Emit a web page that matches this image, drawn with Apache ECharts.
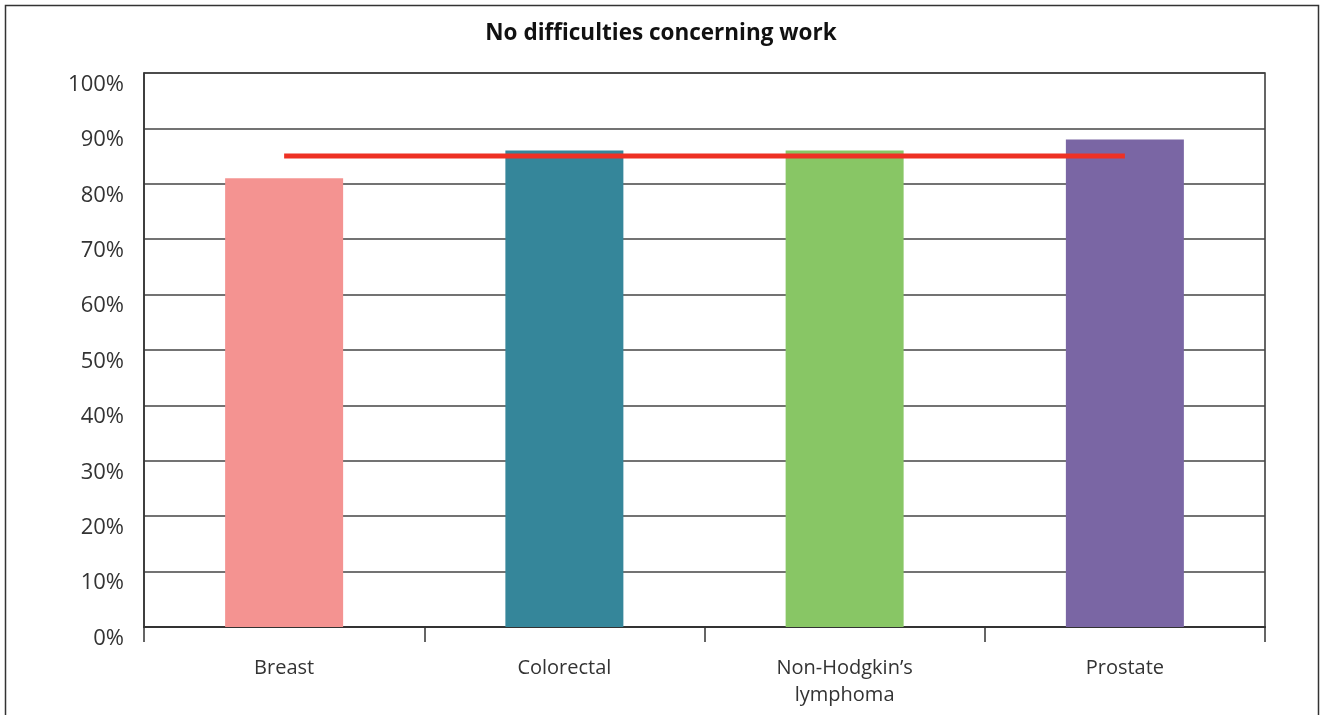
<!DOCTYPE html>
<html>
<head>
<meta charset="utf-8">
<script src="https://cdn.jsdelivr.net/npm/echarts@6/dist/echarts.min.js"></script>
<style>
html,body{margin:0;padding:0;background:#fff;}
#chart{width:1322px;height:715px;}
</style>
</head>
<body>
<div id="chart"></div>
<script>
const title = 'No difficulties concerning work';
const categories = ['Breast', 'Colorectal', 'Non-Hodgkin\u2019s\nlymphoma', 'Prostate'];
const barValues = [81, 86, 86, 88];
const barColors = ['#F49391', '#35869A', '#88C665', '#7A66A4'];
const referenceLine = [85, 85, 85, 85];
const yTicks = {min: 0, max: 100, interval: 10};

const chart = echarts.init(document.getElementById('chart'), null, {renderer: 'canvas'});
const font = '"Open Sans", "Noto Sans", sans-serif';
chart.setOption({
  animation: false,
  backgroundColor: '#fff',
  title: {
    text: title,
    left: 'center',
    top: 17,
    textStyle: {fontFamily: font, fontWeight: 'bold', fontSize: 22.5, color: '#111'}
  },
  graphic: [{
    type: 'rect',
    shape: {x: 5.5, y: 5.5, width: 1313, height: 730},
    style: {fill: 'none', stroke: '#333', lineWidth: 1.5},
    silent: true
  }],
  grid: {
    left: 144, right: 57, top: 73, bottom: 88,
    show: true, borderColor: '#333', borderWidth: 1.5, backgroundColor: 'transparent'
  },
  xAxis: {
    type: 'category',
    data: categories,
    boundaryGap: true,
    axisLine: {show: true, lineStyle: {color: '#333', width: 2}},
    axisTick: {show: true, length: 15, lineStyle: {color: '#333', width: 1.5}},
    axisLabel: {fontFamily: font, fontSize: 20, color: '#333', margin: 28, lineHeight: 27}
  },
  yAxis: {
    type: 'value',
    min: yTicks.min, max: yTicks.max, interval: yTicks.interval,
    axisLine: {show: true, lineStyle: {color: '#333', width: 1.5}},
    axisTick: {show: false},
    splitLine: {show: true, lineStyle: {color: '#444', width: 1.5}},
    axisLabel: {fontFamily: font, fontSize: 22, color: '#333', margin: 20, formatter: '{value}%',
      verticalAlign: 'top', lineHeight: 23}
  },
  series: [{
    type: 'bar',
    data: barValues.map((v, i) => ({value: v, itemStyle: {color: barColors[i]}})),
    barWidth: 118,
    z: 2
  }, {
    type: 'line',
    data: referenceLine,
    symbol: 'none',
    lineStyle: {color: '#EE3124', width: 5},
    z: 3
  }]
});
</script>
</body>
</html>
